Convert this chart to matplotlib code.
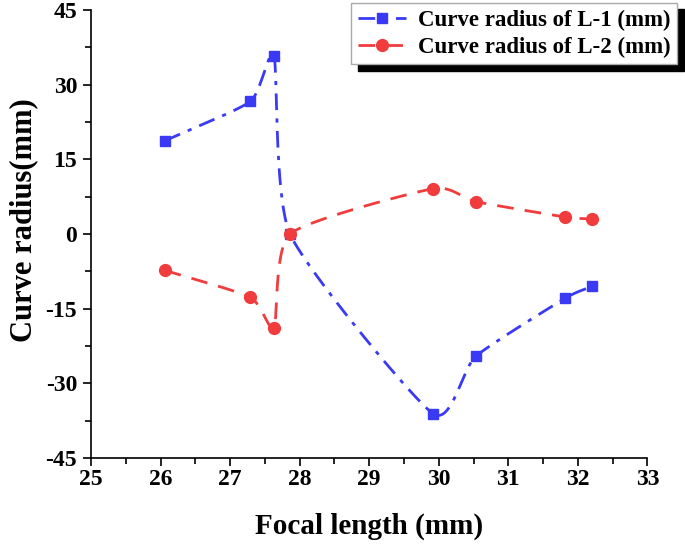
import numpy as np
import matplotlib.pyplot as plt
from matplotlib.ticker import MultipleLocator

# focal length (mm) and curve radius (mm)
focal_length = [26.06, 27.29, 27.63, 27.86, 29.92, 30.53, 31.82, 32.21]
radius_l1 = [18.7, 26.6, 35.7, 0.0, -36.1, -24.6, -12.9, -10.5]
radius_l2 = [-7.3, -12.7, -18.8, 0.0, 9.1, 6.5, 3.4, 3.0]

XLIM = (25, 33)
YLIM = (-45, 45)

plt.rcParams["font.family"] = ["Liberation Serif", "DejaVu Serif"]
plt.rcParams["font.weight"] = "bold"
plt.rcParams["axes.unicode_minus"] = False


def smooth(xs, ys, s=0.3, n=40):
    # cardinal spline through the points, worked out in screen-like units
    sx = 556.0 / (XLIM[1] - XLIM[0])
    sy = 448.0 / (YLIM[1] - YLIM[0])
    p = np.column_stack([np.asarray(xs, float) * sx, np.asarray(ys, float) * sy])
    m = len(p)
    tan = np.zeros_like(p)
    tan[0] = s * 2 * (p[1] - p[0])
    tan[-1] = s * 2 * (p[-1] - p[-2])
    for i in range(1, m - 1):
        tan[i] = s * (p[i + 1] - p[i - 1])
    segs = []
    for i in range(m - 1):
        t = np.linspace(0, 1, n, endpoint=(i == m - 2))[:, None]
        h00 = 2 * t**3 - 3 * t**2 + 1
        h10 = t**3 - 2 * t**2 + t
        h01 = -2 * t**3 + 3 * t**2
        h11 = t**3 - t**2
        segs.append(h00 * p[i] + h10 * tan[i] + h01 * p[i + 1] + h11 * tan[i + 1])
    c = np.vstack(segs)
    return c[:, 0] / sx, c[:, 1] / sy


fig = plt.figure(figsize=(6.85, 5.46), dpi=100)
ax = fig.add_axes([0.133, 0.161, 0.812, 0.821])

blue = "#3a3af5"
red = "#f03c3c"
dashdot = (0, (6, 3, 1.5, 3))
dashed = (0, (6, 4))

bx, by = smooth(focal_length, radius_l1)
rx, ry = smooth(focal_length, radius_l2)

ax.plot(bx, by, color=blue, lw=2, linestyle=dashdot)
ax.plot(focal_length, radius_l1, linestyle="none", marker="s", ms=7, color=blue)
ax.plot(rx, ry, color=red, lw=2, linestyle=dashed)
ax.plot(focal_length, radius_l2, linestyle="none", marker="o", ms=8.5, color=red)

# legend proxies
h1, = ax.plot([], [], color=blue, lw=2, marker="s", ms=7, linestyle=dashdot,
              label="Curve radius of L-1 (mm)")
h2, = ax.plot([], [], color=red, lw=2, marker="o", ms=8.5, linestyle=dashed,
              label="Curve radius of L-2 (mm)")
leg = ax.legend(handles=[h1, h2], loc="upper right", bbox_to_anchor=(1.054, 1.016),
                fontsize=16.5, frameon=True, fancybox=False, edgecolor="#aaaaaa",
                shadow={"color": "black", "alpha": 1, "ox": 4.5, "oy": -4.5},
                handlelength=2.1, borderpad=0.3, labelspacing=0.25,
                handletextpad=0.5, borderaxespad=0)
leg.get_frame().set_linewidth(1.0)

ax.set_xlim(*XLIM)
ax.set_ylim(*YLIM)
ax.xaxis.set_major_locator(MultipleLocator(1))
ax.xaxis.set_minor_locator(MultipleLocator(0.5))
ax.yaxis.set_major_locator(MultipleLocator(15))
ax.yaxis.set_minor_locator(MultipleLocator(7.5))
ax.tick_params(which="major", direction="out", length=6, width=1.2, labelsize=17, pad=4)
ax.tick_params(axis="x", which="major", pad=2)
ax.tick_params(which="minor", direction="out", length=4, width=1.2)
for lab in ax.get_xticklabels() + ax.get_yticklabels():
    lab.set_fontweight("bold")

ax.spines["top"].set_visible(False)
ax.spines["right"].set_visible(False)
ax.spines["left"].set_linewidth(1.2)
ax.spines["bottom"].set_linewidth(1.2)

ax.set_xlabel("Focal length (mm)", fontsize=21, fontweight="bold", labelpad=16)
ax.set_ylabel("Curve radius(mm)", fontsize=22, fontweight="bold")
ax.yaxis.set_label_coords(-0.095, 0.53)

fig.savefig("out.png", dpi=100)
